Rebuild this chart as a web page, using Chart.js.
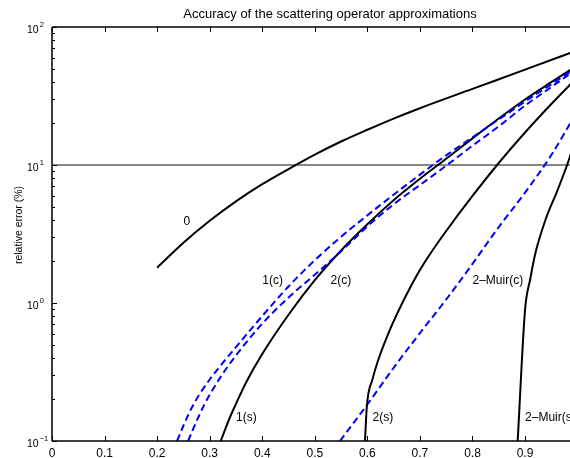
<!DOCTYPE html>
<html>
<head>
<meta charset="utf-8">
<script src="https://cdn.jsdelivr.net/npm/chart.js@4.4.0/dist/chart.umd.min.js"></script>
<style>
  html, body { margin: 0; padding: 0; background: #fff; overflow: hidden; }
  canvas { display: block; }
</style>
</head>
<body>
<canvas id="chart" width="600" height="458"></canvas>
<script>
// relative error (%) against x

// "0"
const x0 = [0.2, 0.25, 0.3, 0.35, 0.4, 0.45, 0.5, 0.55, 0.6, 0.65, 0.7, 0.8, 0.9, 1.0];
const err0 = [1.80, 2.73, 3.94, 5.45, 7.26, 9.35, 11.9, 14.8, 18.0, 21.7, 25.8, 35.6, 49.1, 67.8];

// "1(c)" dashed
const x1c = [0.238, 0.25, 0.26, 0.27, 0.28, 0.3, 0.32, 0.35, 0.4, 0.45, 0.5, 0.55, 0.6, 0.65, 0.7, 0.75, 0.8, 0.85, 0.9, 0.95, 1.0];
const err1c = [0.1, 0.129, 0.157, 0.186, 0.216, 0.279, 0.349, 0.479, 0.804, 1.318, 2.042, 3.02, 4.315, 6.095, 8.511, 11.75, 15.85, 21.38, 28.84, 38.46, 51.29];

// "2(c)" dashed
const x2c = [0.259, 0.27, 0.28, 0.29, 0.3, 0.32, 0.35, 0.4, 0.45, 0.5, 0.55, 0.6, 0.65, 0.7, 0.75, 0.8, 0.85, 0.9, 0.95, 1.0];
const err2c = [0.1, 0.126, 0.153, 0.184, 0.216, 0.288, 0.417, 0.708, 1.096, 1.603, 2.371, 3.589, 5.188, 7.161, 9.886, 13.80, 19.05, 26.92, 36.73, 50.12];

// "1(s)"
const x1s = [0.321, 0.33, 0.34, 0.35, 0.37, 0.4, 0.45, 0.5, 0.55, 0.6, 0.65, 0.7, 0.75, 0.8, 0.85, 0.9, 0.95, 1.0];
const err1s = [0.1, 0.123, 0.153, 0.186, 0.269, 0.427, 0.822, 1.462, 2.399, 3.715, 5.559, 7.943, 11.09, 15.60, 21.73, 29.85, 39.81, 52.72];

// "2(s)"
const x2s = [0.5955, 0.599, 0.61, 0.62, 0.64, 0.66, 0.68, 0.7, 0.72, 0.75, 0.8, 0.85, 0.9, 0.95, 1.0];
const err2s = [0.1, 0.178, 0.282, 0.38, 0.603, 0.890, 1.263, 1.734, 2.284, 3.324, 5.963, 10.34, 17.20, 27.67, 43.42];

// "2-Muir(c)" dashed
const x2mc = [0.548, 0.6, 0.65, 0.7, 0.75, 0.8, 0.85, 0.9, 0.95, 1.0];
const err2mc = [0.1, 0.184, 0.339, 0.605, 1.06, 1.92, 3.55, 6.31, 11.8, 24.8];

// "2-Muir(s)"
const x2ms = [0.886, 0.9, 0.91, 0.92, 0.94, 0.96, 0.98, 1.0];
const err2ms = [0.1, 0.89, 1.50, 2.32, 4.12, 6.31, 10.0, 17.0];

// 10 % reference line
const refX = [0, 1];
const refY = [10, 10];

// curve labels placed in data units (left edge, vertical middle)
const labelText = ['0', '1(c)', '2(c)', '1(s)', '2(s)', '2\u2013Muir(c)', '2\u2013Muir(s)'];
const labelX = [0.25, 0.40, 0.53, 0.35, 0.61, 0.80, 0.90];
const labelY = [3.9, 1.45, 1.45, 0.147, 0.147, 1.45, 0.147];

const xTicks = [0, 0.1, 0.2, 0.3, 0.4, 0.5, 0.6, 0.7, 0.8, 0.9, 1.0];
const yDecades = [-1, 0, 1, 2];

const FONT = '"Liberation Sans", Arial, Helvetica, sans-serif';

function pts(xs, ys) {
  return xs.map((v, i) => ({ x: v, y: ys[i] }));
}

function solid(xs, ys) {
  return {
    data: pts(xs, ys),
    borderColor: '#000',
    borderWidth: 2,
    pointRadius: 0,
    fill: false,
    cubicInterpolationMode: 'monotone'
  };
}

function dashed(xs, ys) {
  return {
    data: pts(xs, ys),
    borderColor: '#0000ff',
    borderWidth: 2,
    borderDash: [7, 4],
    pointRadius: 0,
    fill: false,
    cubicInterpolationMode: 'monotone'
  };
}

// box, inward ticks, 10^n labels, title and curve labels
const decorations = {
  id: 'decorations',
  afterDraw(chart) {
    const { ctx, chartArea: a } = chart;
    const xs = chart.scales.x, ys = chart.scales.y;
    ctx.save();
    ctx.strokeStyle = '#000';

    // frame
    ctx.lineWidth = 1.5;
    ctx.beginPath();
    ctx.moveTo(a.left, a.top);
    ctx.lineTo(a.left, a.bottom);
    ctx.moveTo(a.left, a.bottom);
    ctx.lineTo(a.right, a.bottom);
    ctx.moveTo(a.left, a.top);
    ctx.lineTo(a.right, a.top);
    ctx.stroke();

    // x ticks, bottom and top, pointing in
    ctx.lineWidth = 1;
    ctx.beginPath();
    xTicks.forEach(v => {
      const px = Math.round(xs.getPixelForValue(v)) + 0.5;
      ctx.moveTo(px, a.bottom); ctx.lineTo(px, a.bottom - 5);
      ctx.moveTo(px, a.top); ctx.lineTo(px, a.top + 5);
    });
    // y ticks, major and minor
    for (let e = yDecades[0]; e < yDecades[yDecades.length - 1]; e++) {
      for (let s = 1; s <= 9; s++) {
        const py = Math.round(ys.getPixelForValue(s * Math.pow(10, e))) + 0.5;
        const len = s === 1 ? 5 : 3;
        ctx.moveTo(a.left, py); ctx.lineTo(a.left + len, py);
      }
    }
    const pTop = Math.round(ys.getPixelForValue(100)) + 0.5;
    ctx.moveTo(a.left, pTop); ctx.lineTo(a.left + 5, pTop);
    ctx.stroke();

    ctx.fillStyle = '#000';
    // y tick labels 10^n
    yDecades.forEach(e => {
      const py = ys.getPixelForValue(Math.pow(10, e));
      ctx.font = '10.5px ' + FONT;
      ctx.textAlign = 'left';
      ctx.textBaseline = 'middle';
      ctx.fillText('10', 27, py + 3);
      const w = ctx.measureText('10').width;
      ctx.font = '7.5px ' + FONT;
      ctx.fillText(String(e).replace('-', '\u2212'), 27 + w + 1, py - 2);
    });

    // x tick labels
    ctx.font = '12px ' + FONT;
    ctx.textAlign = 'center';
    ctx.textBaseline = 'middle';
    xTicks.forEach(v => {
      ctx.fillText(String(+v.toFixed(1)), xs.getPixelForValue(v), a.bottom + 13);
    });

    // title
    ctx.font = '13px ' + FONT;
    ctx.fillText('Accuracy of the scattering operator approximations', 330, 14);

    // y axis title
    ctx.save();
    ctx.translate(19, 225);
    ctx.rotate(-Math.PI / 2);
    ctx.font = '10.5px ' + FONT;
    ctx.fillText('relative error (%)', 0, 0);
    ctx.restore();

    // curve labels
    ctx.font = '12px ' + FONT;
    ctx.textAlign = 'left';
    labelText.forEach((t, i) => {
      ctx.fillText(t, xs.getPixelForValue(labelX[i]), ys.getPixelForValue(labelY[i]));
    });
    ctx.restore();
  }
};

new Chart(document.getElementById('chart'), {
  type: 'line',
  data: {
    datasets: [
      solid(x0, err0),
      dashed(x1c, err1c),
      dashed(x2c, err2c),
      solid(x1s, err1s),
      solid(x2s, err2s),
      dashed(x2mc, err2mc),
      solid(x2ms, err2ms),
      {
        data: pts(refX, refY),
        borderColor: '#111',
        borderWidth: 1,
        pointRadius: 0,
        fill: false
      }
    ]
  },
  options: {
    responsive: false,
    animation: false,
    devicePixelRatio: 1,
    layout: { padding: { top: 27, right: 22.4, left: 0, bottom: 0 } },
    plugins: {
      legend: { display: false },
      tooltip: { enabled: false },
      title: { display: false }
    },
    scales: {
      x: {
        type: 'linear',
        min: 0,
        max: 1,
        grid: { display: false, drawTicks: false },
        border: { display: false },
        ticks: { display: false },
        afterFit: s => { s.height = 17; }
      },
      y: {
        type: 'logarithmic',
        min: 0.1,
        max: 100,
        grid: { display: false, drawTicks: false },
        border: { display: false },
        ticks: { display: false },
        afterFit: s => { s.width = 52; }
      }
    }
  },
  plugins: [decorations]
});
</script>
</body>
</html>
